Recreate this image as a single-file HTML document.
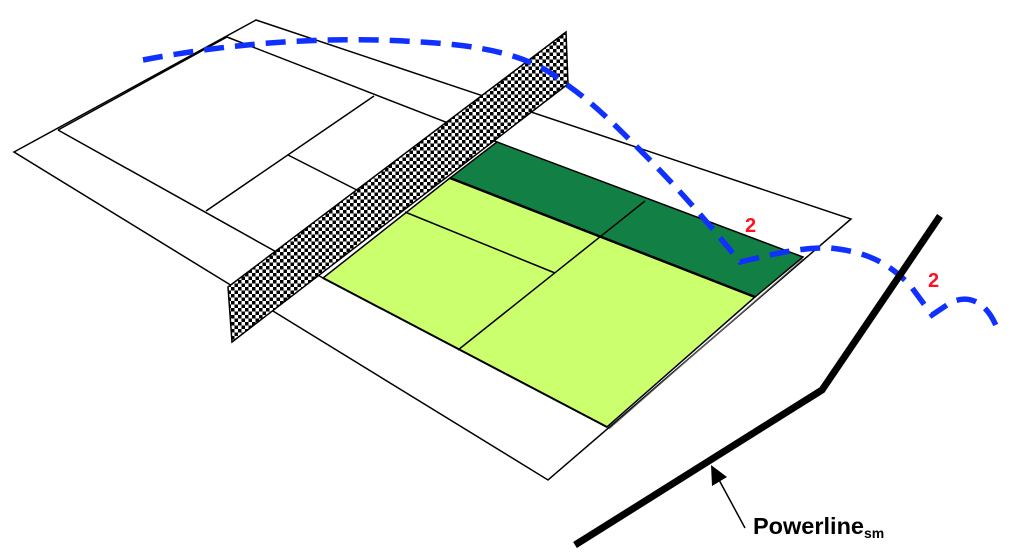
<!DOCTYPE html>
<html><head><meta charset="utf-8"><style>html,body{margin:0;padding:0;background:#fff}svg{display:block}</style></head>
<body>
<svg width="1018" height="560" viewBox="0 0 1018 560" xmlns="http://www.w3.org/2000/svg">
<defs>
<pattern id="chk" width="7" height="7" patternUnits="userSpaceOnUse">
<rect width="7" height="7" fill="#fff"/><rect width="3.5" height="3.5" fill="#000"/><rect x="3.5" y="3.5" width="3.5" height="3.5" fill="#000"/>
</pattern>
</defs>
<g fill="none" stroke="#000" stroke-width="1.5">
<polygon points="256,20 851,219 548,480 14,152" fill="#fff"/>
<line x1="227" y1="37" x2="497" y2="142"/>
<line x1="227" y1="37" x2="58" y2="130"/>
<line x1="58" y1="130" x2="323" y2="278"/>
<line x1="374" y1="96" x2="206" y2="211"/>
<line x1="288" y1="155" x2="400" y2="212"/>
</g>
<polygon points="497,142 803,257 755,297 450,178" fill="#128045" stroke="#000" stroke-width="1.5"/>
<polygon points="450,178 755,297 607,427 323,278" fill="#ccff6e" stroke="#000" stroke-width="1.5"/>
<g stroke="#000" fill="none">
<line x1="450" y1="178" x2="755" y2="297" stroke-width="2.5"/>
<line x1="405" y1="212" x2="555" y2="273" stroke-width="1.5"/>
<line x1="645" y1="201" x2="458" y2="350" stroke-width="1.5"/>
<line x1="323" y1="278" x2="607" y2="427" stroke-width="2"/>
<line x1="803" y1="259" x2="609" y2="429" stroke-width="1" stroke="#666"/>
</g>
<polygon points="566,32 568,84 232,342 228,287" fill="url(#chk)" stroke="#000" stroke-width="1.5"/>
<path d="M143,60 C220,45 320,35 420,42 C480,45 530,55 560,80 C590,100 610,120 640,150 C680,190 710,225 740,262 C770,255 800,247 830,248 C870,252 890,265 910,285 L932,315 L950,303 C965,295 985,298 997,328" fill="none" stroke="#1030ff" stroke-width="5.5" stroke-dasharray="20,11"/>
<g font-family="Liberation Sans, sans-serif" font-weight="bold" font-size="20" fill="#ff1020">
<text x="745" y="232">2</text>
<text x="928" y="287">2</text>
</g>
<polyline points="940,216 822,390 575,545" fill="none" stroke="#000" stroke-width="7"/>
<line x1="745" y1="528" x2="718" y2="478" stroke="#000" stroke-width="1.5"/>
<polygon points="711,465 727,477 712,486" fill="#000"/>
<text x="753" y="534" font-family="Liberation Sans, sans-serif" font-weight="bold" font-size="23.5" fill="#000">Powerline<tspan font-size="14" dy="4">sm</tspan></text>
</svg>
</body></html>
